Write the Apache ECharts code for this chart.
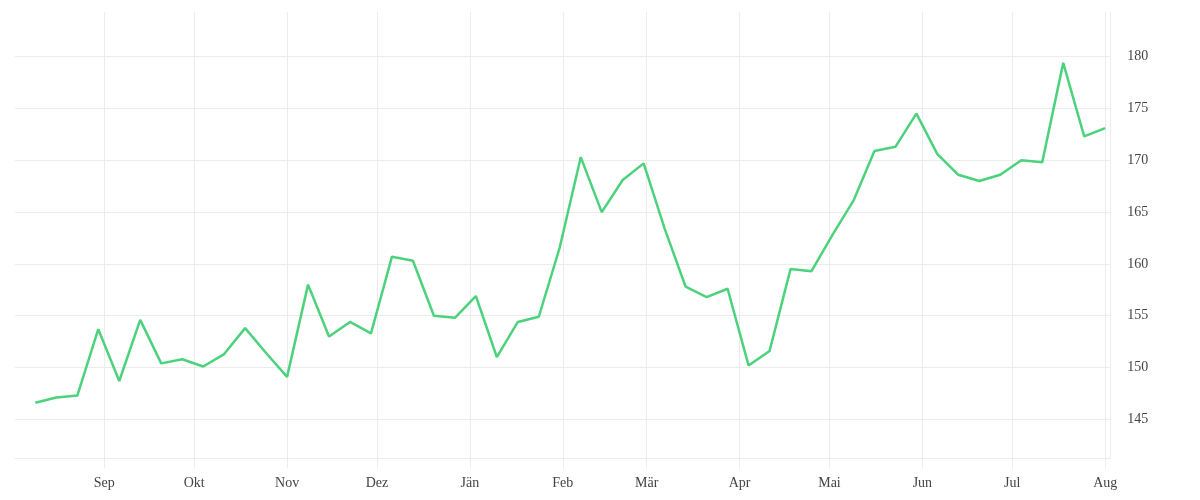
<!DOCTYPE html>
<html>
<head>
<meta charset="utf-8">
<script src="https://cdn.jsdelivr.net/npm/echarts@6/dist/echarts.min.js"></script>
<style>
html,body{margin:0;padding:0;background:#fff;}
#chart{width:1200px;height:500px;}
</style>
</head>
<body>
<div id="chart"></div>
<script>
// Weekly dates (one point per week)
var dates = [
  '2022-08-09','2022-08-16','2022-08-23','2022-08-30','2022-09-06','2022-09-13','2022-09-20','2022-09-27',
  '2022-10-04','2022-10-11','2022-10-18','2022-10-25','2022-11-01','2022-11-08','2022-11-15','2022-11-22',
  '2022-11-29','2022-12-06','2022-12-13','2022-12-20','2022-12-27','2023-01-03','2023-01-10','2023-01-17',
  '2023-01-24','2023-01-31','2023-02-07','2023-02-14','2023-02-21','2023-02-28','2023-03-07','2023-03-14',
  '2023-03-21','2023-03-28','2023-04-04','2023-04-11','2023-04-18','2023-04-25','2023-05-02','2023-05-09',
  '2023-05-16','2023-05-23','2023-05-30','2023-06-06','2023-06-13','2023-06-20','2023-06-27','2023-07-04',
  '2023-07-11','2023-07-18','2023-07-25','2023-08-01'
];
var values = [
  146.6,147.1,147.3,153.7,148.7,154.6,150.4,150.8,
  150.1,151.3,153.8,151.4,149.1,158.0,153.0,154.4,
  153.3,160.7,160.3,155.0,154.8,156.9,151.0,154.4,
  154.9,161.6,170.3,165.0,168.1,169.7,163.4,157.8,
  156.8,157.6,150.2,151.6,159.5,159.3,162.8,166.1,
  170.9,171.3,174.5,170.6,168.6,168.0,168.6,170.0,
  169.8,179.4,172.3,173.1
];
var monthLabels = ['Jän','Feb','Mär','Apr','Mai','Jun','Jul','Aug','Sep','Okt','Nov','Dez'];
// y tick range (labels 145 … 180 every 5)
var yTickMin = 140, yTickMax = 185, yTickStep = 5;

var seriesData = dates.map(function(d,i){ return [d, values[i]]; });

var chart = echarts.init(document.getElementById('chart'));
var gridColor = '#ececec';
var textColor = '#444';
var font = 'Liberation Serif';

// plot area mapping: 141.24 at y=458.3, 184.31 at y=12
var pxPerUnit = (458.3 - 12) / (184.31 - 141.24);
var g2Top = 12 - (yTickMax - 184.31) * pxPerUnit;
var g2Bottom = 500 - (458.3 + (141.24 - yTickMin) * pxPerUnit);

chart.setOption({
  animation: false,
  backgroundColor: '#fff',
  grid: [
    { left: 15, right: 89.7, top: 12, bottom: 41.7 },
    { left: 15, right: 89.7, top: g2Top, bottom: g2Bottom }
  ],
  xAxis: [{
    type: 'time',
    gridIndex: 0,
    min: '2022-08-02 05:00:00',
    max: '2023-08-02 17:00:00',
    splitNumber: 12,
    minInterval: 28 * 86400000,
    axisLine: { show: true, lineStyle: { color: gridColor, width: 1 } },
    axisTick: { show: true, length: 10, lineStyle: { color: gridColor } },
    splitLine: { show: true, showMinLine: false, showMaxLine: false, lineStyle: { color: gridColor, width: 1 } },
    axisLabel: {
      showMinLabel: false,
      showMaxLabel: false,
      margin: 18,
      color: textColor,
      fontFamily: font,
      fontSize: 14,
      formatter: function (v) { return monthLabels[new Date(v).getMonth()]; }
    }
  }, {
    type: 'value',
    gridIndex: 1,
    show: false,
    min: 0, max: 1
  }],
  yAxis: [{
    type: 'value',
    gridIndex: 0,
    position: 'right',
    min: 141.24,
    max: 184.31,
    axisLine: { show: true, lineStyle: { color: gridColor, width: 1 } },
    axisTick: { show: false },
    splitLine: { show: false },
    axisLabel: { show: false }
  }, {
    type: 'value',
    gridIndex: 1,
    position: 'right',
    min: yTickMin,
    max: yTickMax,
    interval: yTickStep,
    axisLine: { show: false },
    axisTick: { show: false },
    splitLine: { show: true, showMinLine: false, showMaxLine: false, lineStyle: { color: gridColor, width: 1 } },
    axisLabel: {
      showMinLabel: false,
      showMaxLabel: false,
      margin: 17,
      padding: [4, 0, 0, 0],
      color: textColor,
      fontFamily: font,
      fontSize: 14
    }
  }],
  series: [{
    type: 'line',
    xAxisIndex: 0,
    yAxisIndex: 0,
    data: seriesData,
    showSymbol: false,
    symbol: 'none',
    lineStyle: { color: '#4cd27c', width: 2.5 },
    itemStyle: { color: '#4cd27c' }
  }]
});
</script>
</body>
</html>
